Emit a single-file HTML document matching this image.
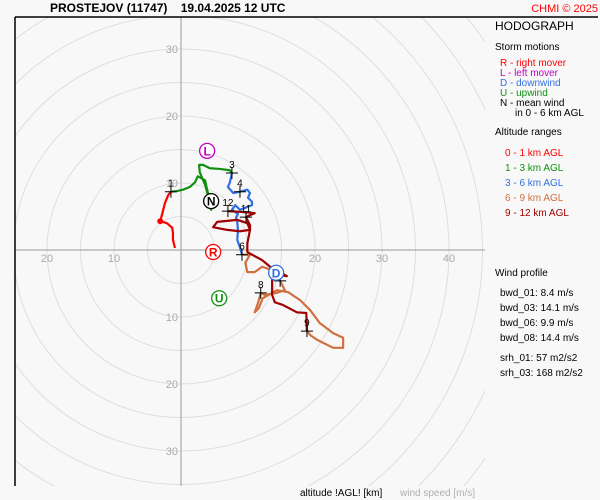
<!DOCTYPE html>
<html><head><meta charset="utf-8"><style>
html,body{margin:0;padding:0;width:600px;height:500px;overflow:hidden;background:#f8f8f8;}
svg{display:block;font-family:"Liberation Sans",sans-serif;}
</style></head><body>
<svg id="c" width="600" height="500" viewBox="0 0 600 500">
<rect x="0" y="0" width="600" height="500" fill="#f8f8f8"/>
<text x="50" y="12" font-size="12" font-weight="bold" fill="#000">PROSTEJOV (11747)    <tspan dx="10">19.04.2025 12 UTC</tspan></text>
<text x="598" y="12" font-size="11" fill="#ff0000" text-anchor="end">CHMI © 2025</text>
<defs><clipPath id="pc"><rect x="15" y="17" width="470" height="469"/></clipPath></defs>
<g id="grid" clip-path="url(#pc)"></g>
<g id="marks" clip-path="url(#pc)"></g>
<line x1="15" y1="17" x2="15" y2="486" stroke="#000" stroke-width="1.5"/>
<line x1="15" y1="17" x2="598" y2="17" stroke="#000" stroke-width="1.5"/>
<g font-size="11">
<text x="495" y="30" font-size="12">HODOGRAPH</text>
<text x="495" y="50" font-size="10">Storm motions</text>
<text x="500" y="66" font-size="10" fill="#ff0000">R - right mover</text>
<text x="500" y="76" font-size="10" fill="#c000c0">L - left mover</text>
<text x="500" y="86" font-size="10" fill="#3070e0">D - downwind</text>
<text x="500" y="96" font-size="10" fill="#109010">U - upwind</text>
<text x="500" y="106" font-size="10" fill="#000">N - mean wind</text>
<text x="515" y="116" font-size="10" fill="#000">in 0 - 6 km AGL</text>
<text x="495" y="135" font-size="10">Altitude ranges</text>
<text x="505" y="156" font-size="10" fill="#ff0000">0 - 1 km AGL</text>
<text x="505" y="171" font-size="10" fill="#109010">1 - 3 km AGL</text>
<text x="505" y="186" font-size="10" fill="#3070e0">3 - 6 km AGL</text>
<text x="505" y="201" font-size="10" fill="#d07040">6 - 9 km AGL</text>
<text x="505" y="216" font-size="10" fill="#a00000">9 - 12 km AGL</text>
<text x="495" y="276" font-size="10">Wind profile</text>
<text x="500" y="296" font-size="10">bwd_01: 8.4 m/s</text>
<text x="500" y="311" font-size="10">bwd_03: 14.1 m/s</text>
<text x="500" y="326" font-size="10">bwd_06: 9.9 m/s</text>
<text x="500" y="341" font-size="10">bwd_08: 14.4 m/s</text>
<text x="500" y="361" font-size="10">srh_01: 57 m2/s2</text>
<text x="500" y="376" font-size="10">srh_03: 168 m2/s2</text>
</g>
<text x="300" y="496" font-size="10" fill="#000">altitude !AGL! [km]</text>
<text x="400" y="496" font-size="10" fill="#b0b0b0">wind speed [m/s]</text>
</svg>
<script>
const ringValues=[5,10,15,20,25,30,35,40,45,50,55,60];
const vLabels=[10,20,30];
const hLabelsLeft=[10,20];
const hLabelsRight=[20,30,40];
const seg01U=[-0.9,-1.2,-1.2,-1.3,-2.1,-3.1,-2.8,-2.4,-1.9,-1.5];
const seg01V=[0.3,1.5,2.5,3.3,4.0,4.3,5.4,7.0,8.2,8.7];
const seg13U=[-1.5,-0.6,0.3,1.3,2.1,2.5,3.6,3.9,4.3,4.5,4.2,3.6,2.8,2.7,3.3,4.3,5.8,7.3,7.6];
const seg13V=[8.7,8.8,9.0,9.4,10.1,11.0,10.4,9.0,7.5,6.0,7.5,9.7,11.6,12.7,12.7,12.2,12.1,11.9,11.5];
const seg36U=[7.6,7.3,7.0,7.8,8.8,9.9,10.3,10.0,10.6,10.6,8.8,8.1,7.6,8.5,8.2,8.4,8.5,8.4,8.8,9.1];
const seg36V=[11.5,10.1,9.4,8.5,8.7,9.0,8.5,7.8,7.2,6.7,6.0,6.7,6.0,5.4,4.8,4.2,3.0,1.5,0.4,-0.7];
const seg69U=[9.1,10.3,9.6,9.9,11.0,12.1,13.6,14.5,15.5,14.3,12.5,11.9,11.5,11.0,11.6,12.2,14.3,16.0,17.8,19.3,20.7,22.7,24.2,24.2,22.7,20.3,19.3,18.8];
const seg69V=[-0.7,-0.7,-1.9,-3.3,-3.3,-2.5,-3.0,-4.0,-6.0,-6.4,-6.7,-6.4,-7.9,-9.3,-8.7,-7.2,-6.0,-6.3,-7.5,-9.0,-10.9,-12.4,-13.1,-14.6,-14.6,-13.4,-12.7,-12.1];
const seg912U=[18.8,18.7,17.3,15.2,14.0,13.6,13.6,14.5,15.8,13.3,12.1,10.6,9.9,9.9,10.3,9.9,8.4,5.4,4.8,6.9,8.8,10.3,10.3,9.7,10.3,11.0,8.8,7.0];
const seg912V=[-12.1,-9.4,-9.3,-8.2,-7.8,-6.7,-4.5,-3.7,-3.9,-2.5,-1.5,-0.7,-0.3,1.0,3.0,4.0,4.5,4.2,3.4,3.0,2.8,3.0,3.7,4.9,5.2,5.5,5.7,5.8];
const kmLabels=["1","3","4","6","7","8","9","11","12"];
const kmU=[-1.5,7.6,8.8,9.1,14.8,11.9,18.8,9.7,7.0];
const kmV=[8.7,11.5,8.7,-0.7,-4.6,-6.4,-12.1,4.9,5.8];
const stormLabels=["L","N","R","D","U"];
const stormU=[3.9,4.5,4.8,14.2,5.7];
const stormV=[14.8,7.3,-0.3,-3.4,-7.2];

const CX=181,CY=250,S=6.7;
const xS=u=>CX+u*S, yS=v=>CY-v*S;
const NS="http://www.w3.org/2000/svg";
function mk(t,a,p){const e=document.createElementNS(NS,t);for(const k in a)e.setAttribute(k,a[k]);p.appendChild(e);return e;}
const grid=document.getElementById('grid'), marks=document.getElementById('marks');
ringValues.forEach(r=>{
  const c=mk('circle',{cx:CX,cy:CY,r:r*S,fill:'none',stroke:'#dedede','stroke-width':1},grid);
  
  
});
const ax1=mk('line',{x1:CX,y1:17,x2:CX,y2:486,stroke:'#aaa','stroke-width':1.2},grid);


const ax2=mk('line',{x1:15,y1:CY,x2:485,y2:CY,stroke:'#aaa','stroke-width':1.2},grid);


vLabels.forEach(v=>{[1,-1].forEach(s=>{
  const t=mk('text',{x:CX-3,y:yS(s*v)+4,'font-size':11,fill:'#aaa','text-anchor':'end'},grid);t.textContent=v;
  
  
});});
hLabelsLeft.forEach(v=>{
  const t=mk('text',{x:xS(-v),y:CY+12,'font-size':11,fill:'#aaa','text-anchor':'middle'},grid);t.textContent=v;
  
  
});
hLabelsRight.forEach(v=>{
  const t=mk('text',{x:xS(v),y:CY+12,'font-size':11,fill:'#aaa','text-anchor':'middle'},grid);t.textContent=v;
  
  
});
function seg(U,V,col,name){
  const p=mk('polyline',{points:U.map((u,i)=>xS(u)+','+yS(V[i])).join(' '),fill:'none',stroke:col,'stroke-width':2.2,'stroke-linejoin':'round'},marks);
  
  
}
seg(seg01U,seg01V,'#ff0000','hodograph-0-1km');
seg(seg13U,seg13V,'#109010','hodograph-1-3km');
seg(seg36U,seg36V,'#3070e0','hodograph-3-6km');
seg(seg69U,seg69V,'#d07040','hodograph-6-9km');
seg(seg912U,seg912V,'#a00000','hodograph-9-12km');
const d1=mk('circle',{cx:xS(seg01U[5]),cy:yS(seg01V[5]),r:3,fill:'#ff0000'},marks);


kmLabels.forEach((l,i)=>{
  const x=xS(kmU[i]),y=yS(kmV[i]);
  const p=mk('path',{d:`M${x-6},${y}H${x+6}M${x},${y-6}V${y+6}`,stroke:'#000','stroke-width':1},marks);
  
  
  const t=mk('text',{x:x,y:y-5,'font-size':10,fill:'#000','text-anchor':'middle'},marks);t.textContent=l;
  
  
});
const sc={L:'#c000c0',N:'#000',R:'#ff0000',D:'#3070e0',U:'#109010'};
stormLabels.forEach((l,i)=>{
  const x=xS(stormU[i]),y=yS(stormV[i]);
  const c=mk('circle',{cx:x,cy:y,r:7.5,fill:'#fff',stroke:sc[l],'stroke-width':1.3},marks);
  
  
  const t=mk('text',{x:x,y:y+4.5,'font-size':12,'font-weight':'bold',fill:sc[l],'text-anchor':'middle'},marks);t.textContent=l;
  
  
});
</script>
</body></html>
